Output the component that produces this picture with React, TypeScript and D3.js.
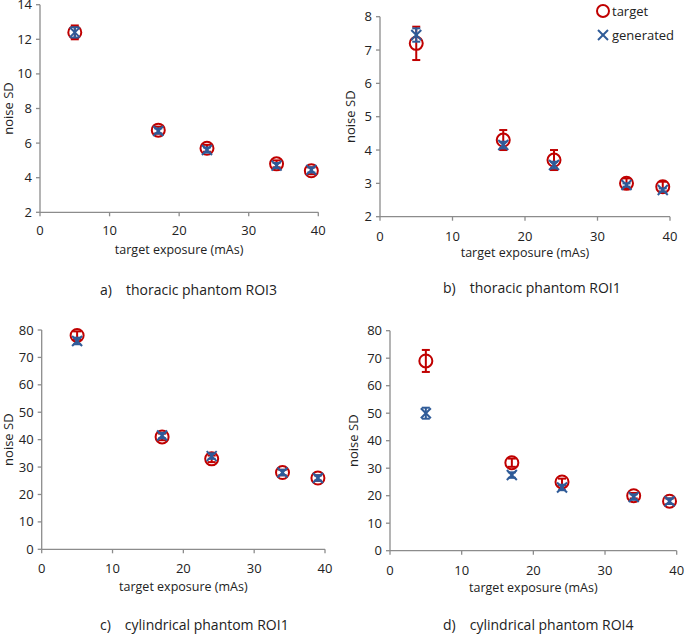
import * as d3 from "d3";

// shared x positions (target exposure, mAs)
const exposures = [5, 17, 24, 34, 39];

// a) thoracic phantom ROI3
const aTarget = [12.4, 6.75, 5.7, 4.8, 4.4];
const aTargetErr = [0.4, 0.2, 0.2, 0.2, 0.2];
const aGen = [12.4, 6.7, 5.6, 4.7, 4.45];
const aGenErr = [0.3, 0.15, 0.15, 0.15, 0.15];

// b) thoracic phantom ROI1
const bTarget = [7.2, 4.3, 3.7, 3.0, 2.9];
const bTargetErr = [0.5, 0.3, 0.3, 0.15, 0.15];
const bGen = [7.45, 4.15, 3.55, 2.95, 2.8];
const bGenErr = [0.2, 0.1, 0.1, 0.05, 0.05];

// c) cylindrical phantom ROI1
const cTarget = [78, 41, 33, 28, 26];
const cTargetErr = [1.5, 1.2, 1.2, 1, 1];
const cGen = [76, 41.5, 34, 28, 26];
const cGenErr = [1.2, 1, 1, 1, 1];

// d) cylindrical phantom ROI4
const dTarget = [69, 32, 25, 20, 18];
const dTargetErr = [4, 1.5, 1.2, 1, 1];
const dGen = [50, 27.5, 23, 19.5, 18];
const dGenErr = [2, 1, 1, 1, 1];

const captions = [
  ["a)", "thoracic phantom ROI3"],
  ["b)", "thoracic phantom ROI1"],
  ["c)", "cylindrical phantom ROI1"],
  ["d)", "cylindrical phantom ROI4"],
];

const RED = "#C00000";
const BLUE = "#2F5B98";
const AXIS = "#8C8C8C";
const FONT = "'Open Sans', 'Liberation Sans', sans-serif";

interface PanelProps {
  left: number;
  top: number;
  bottom: number;
  right: number;
  yDomain: [number, number];
  yStep: number;
  target: number[];
  targetErr: number[];
  gen: number[];
  genErr: number[];
  xLabelY: number;
  xTitleY: number;
  captionY: number;
  captionX: number;
  caption: string[];
  yTitleX: number;
  legend?: boolean;
}

const Panel = (p: PanelProps) => {
  const x = d3.scaleLinear().domain([0, 40]).range([p.left, p.right]);
  const y = d3.scaleLinear().domain(p.yDomain).range([p.bottom, p.top]);
  const yTicks = d3.range(p.yDomain[0], p.yDomain[1] + 0.001, p.yStep);
  const xTicks = [0, 10, 20, 30, 40];
  const cap = 4;
  const r = 6.5;
  const xs = 5;

  return (
    <g>
      {/* axes */}
      <line x1={p.left} x2={p.left} y1={p.top} y2={p.bottom} stroke={AXIS} strokeWidth={1.3} />
      <line x1={p.left} x2={p.right} y1={p.bottom} y2={p.bottom} stroke={AXIS} strokeWidth={1.3} />
      {yTicks.map((t) => (
        <g key={"y" + t}>
          <line x1={p.left - 4} x2={p.left} y1={y(t)} y2={y(t)} stroke={AXIS} strokeWidth={1.3} />
          <text x={p.left - 8} y={y(t)} dy="0.35em" textAnchor="end" fontSize={13} fill="#222">
            {t}
          </text>
        </g>
      ))}
      {xTicks.map((t) => (
        <g key={"x" + t}>
          <line x1={x(t)} x2={x(t)} y1={p.bottom} y2={p.bottom + 4} stroke={AXIS} strokeWidth={1.3} />
          <text x={x(t)} y={p.xLabelY} dy="0.35em" textAnchor="middle" fontSize={13} fill="#222">
            {t}
          </text>
        </g>
      ))}
      <text x={(p.left + p.right) / 2} y={p.xTitleY} dy="0.35em" textAnchor="middle" fontSize={12.5} fill="#222">
        target exposure (mAs)
      </text>
      <text
        transform={`translate(${p.yTitleX},${(p.top + p.bottom) / 2}) rotate(-90)`}
        dy="0.35em"
        textAnchor="middle"
        fontSize={13}
        fill="#222"
      >
        noise SD
      </text>

      {/* target: error bars + circles */}
      {exposures.map((e, i) => {
        const cx = x(e);
        const lo = y(p.target[i] - p.targetErr[i]);
        const hi = y(p.target[i] + p.targetErr[i]);
        return (
          <g key={"t" + i} stroke={RED} strokeWidth={2} fill="none">
            <line x1={cx} x2={cx} y1={lo} y2={hi} />
            <line x1={cx - cap} x2={cx + cap} y1={lo} y2={lo} />
            <line x1={cx - cap} x2={cx + cap} y1={hi} y2={hi} />
            <circle cx={cx} cy={y(p.target[i])} r={r} />
          </g>
        );
      })}
      {/* generated: error bars + crosses */}
      {exposures.map((e, i) => {
        const cx = x(e);
        const cy = y(p.gen[i]);
        const lo = y(p.gen[i] - p.genErr[i]);
        const hi = y(p.gen[i] + p.genErr[i]);
        return (
          <g key={"g" + i} stroke={BLUE} strokeWidth={2} fill="none">
            <line x1={cx} x2={cx} y1={lo} y2={hi} />
            <line x1={cx - cap} x2={cx + cap} y1={lo} y2={lo} />
            <line x1={cx - cap} x2={cx + cap} y1={hi} y2={hi} />
            <line x1={cx - xs} x2={cx + xs} y1={cy - xs} y2={cy + xs} />
            <line x1={cx - xs} x2={cx + xs} y1={cy + xs} y2={cy - xs} />
          </g>
        );
      })}

      {p.legend && (
        <g>
          <circle cx={603} cy={11} r={6} stroke={RED} strokeWidth={2} fill="none" />
          <text x={612} y={11} dy="0.35em" fontSize={13} fill="#222">
            target
          </text>
          <g stroke={BLUE} strokeWidth={2}>
            <line x1={598} x2={608} y1={30} y2={40} />
            <line x1={598} x2={608} y1={40} y2={30} />
          </g>
          <text x={612} y={35} dy="0.35em" fontSize={13} fill="#222">
            generated
          </text>
        </g>
      )}

      <text x={p.captionX} y={p.captionY} dy="0.35em" fontSize={14} fill="#222">
        {p.caption[0]}
        <tspan dx={14}>{p.caption[1]}</tspan>
      </text>
    </g>
  );
};

export default function App() {
  return (
    <svg
      width={685}
      height={634}
      style={{ position: "absolute", left: 0, top: 0, background: "#fff" }}
      fontFamily={FONT}
    >
      <Panel
        left={40}
        right={318.3}
        top={4.7}
        bottom={212.3}
        yDomain={[2, 14]}
        yStep={2}
        target={aTarget}
        targetErr={aTargetErr}
        gen={aGen}
        genErr={aGenErr}
        xLabelY={230}
        xTitleY={250}
        captionX={100}
        captionY={290}
        caption={captions[0]}
        yTitleX={8}
      />
      <Panel
        left={380}
        right={670}
        top={16.7}
        bottom={216.7}
        yDomain={[2, 8]}
        yStep={1}
        target={bTarget}
        targetErr={bTargetErr}
        gen={bGen}
        genErr={bGenErr}
        xLabelY={236}
        xTitleY={253}
        captionX={443}
        captionY={288}
        caption={captions[1]}
        yTitleX={350}
        legend
      />
      <Panel
        left={41.7}
        right={325}
        top={330}
        bottom={549.3}
        yDomain={[0, 80]}
        yStep={10}
        target={cTarget}
        targetErr={cTargetErr}
        gen={cGen}
        genErr={cGenErr}
        xLabelY={568}
        xTitleY={587}
        captionX={100}
        captionY={625}
        caption={captions[2]}
        yTitleX={8}
      />
      <Panel
        left={390}
        right={676.7}
        top={330.7}
        bottom={550.7}
        yDomain={[0, 80]}
        yStep={10}
        target={dTarget}
        targetErr={dTargetErr}
        gen={dGen}
        genErr={dGenErr}
        xLabelY={570}
        xTitleY={588}
        captionX={443}
        captionY={625}
        caption={captions[3]}
        yTitleX={353}
      />
    </svg>
  );
}
